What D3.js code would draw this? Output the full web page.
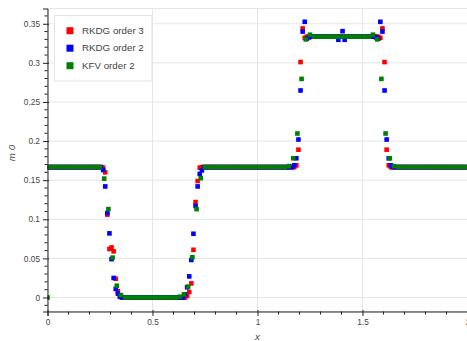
<!DOCTYPE html>
<html><head><meta charset="utf-8">
<script src="https://cdn.jsdelivr.net/npm/d3@7"></script>
<style>html,body{margin:0;padding:0;background:#fff;} svg{display:block;font-family:"Liberation Sans",Arial,Helvetica,sans-serif;}</style>
</head><body><div id="chart"></div>
<script>
// ---------- data ----------
const seriesNames = ["RKDG order 3", "RKDG order 2", "KFV order 2"];
const seriesColors = ["#ff0000", "#0000ff", "#008000"];
const xTicks = [0, 0.5, 1, 1.5, 2];
const xTickLabels = ["0", "0.5", "1", "1.5", "2"];
const yTicks = [0, 0.05, 0.1, 0.15, 0.2, 0.25, 0.3, 0.35];
const yTickLabels = ["0", "0.05", "0.1", "0.15", "0.2", "0.25", "0.3", "0.35"];
const xAxisLabel = "x";
const yAxisLabel = "m 0";

// sample positions (cell centres of the meshes)
const meshDG = d3.range(200).map(i => 0.005 + 0.01 * i);
const meshFV = [0].concat(d3.range(100).map(i => 0.01 + 0.02 * i));

const rkdg3 = [
  .1667,.1667,.1667,.1667,.1667,.1667,.1667,.1667,.1667,.1667,
  .1667,.1667,.1667,.1667,.1667,.1667,.1667,.1667,.1667,.1667,
  .1667,.1667,.1667,.1667,.1667,.1667,.166,.160,.106,.062,
  .064,.059,.024,.008,.002,0,0,0,0,0,
  0,0,0,0,0,0,0,0,0,0,
  0,0,0,0,0,0,0,0,0,0,
  0,0,0,0,0,0,.002,.007,.018,.061,
  .122,.149,.166,.1667,.1667,.1667,.1667,.1667,.1667,.1667,
  .1667,.1667,.1667,.1667,.1667,.1667,.1667,.1667,.1667,.1667,
  .1667,.1667,.1667,.1667,.1667,.1667,.1667,.1667,.1667,.1667,
  .1667,.1667,.1667,.1667,.1667,.1667,.1667,.1667,.1667,.1667,
  .1667,.1667,.1667,.1667,.1667,.1667,.1667,.1667,.169,.189,
  .301,.344,.332,.3335,.3335,.3335,.3335,.3335,.3335,.3335,
  .3335,.3335,.3335,.3335,.3335,.3335,.3335,.3335,.3335,.3335,
  .3335,.3335,.3335,.3335,.3335,.3335,.3335,.3335,.3335,.3335,
  .3335,.3335,.3335,.3335,.3335,.3335,.3335,.3335,.332,.344,
  .301,.189,.169,.1667,.1667,.1667,.1667,.1667,.1667,.1667,
  .1667,.1667,.1667,.1667,.1667,.1667,.1667,.1667,.1667,.1667,
  .1667,.1667,.1667,.1667,.1667,.1667,.1667,.1667,.1667,.1667,
  .1667,.1667,.1667,.1667,.1667,.1667,.1667,.1667,.1667,.1667
];
const rkdg2 = [
  .1667,.1667,.1667,.1667,.1667,.1667,.1667,.1667,.1667,.1667,
  .1667,.1667,.1667,.1667,.1667,.1667,.1667,.1667,.1667,.1667,
  .1667,.1667,.1667,.1667,.1667,.1667,.163,.142,.108,.082,
  .049,.025,.011,.005,.001,0,0,0,0,0,
  0,0,0,0,0,0,0,0,0,0,
  0,0,0,0,0,0,0,0,0,0,
  0,0,0,0,0,.004,.013,.027,.048,.0815,
  .117,.142,.158,.1625,.1667,.1667,.1667,.1667,.1667,.1667,
  .1667,.1667,.1667,.1667,.1667,.1667,.1667,.1667,.1667,.1667,
  .1667,.1667,.1667,.1667,.1667,.1667,.1667,.1667,.1667,.1667,
  .1667,.1667,.1667,.1667,.1667,.1667,.1667,.1667,.1667,.1667,
  .1667,.1667,.1667,.1667,.1667,.1667,.1667,.169,.178,.202,
  .2647,.340,.3525,.331,.3325,.3335,.3335,.3335,.3335,.3335,
  .3335,.3335,.3335,.3335,.3335,.3335,.3335,.3335,.3295,.3335,
  .3405,.3295,.3335,.3335,.3335,.3335,.3335,.3335,.3335,.3335,
  .3335,.3335,.3335,.3335,.3335,.3335,.3325,.331,.3525,.340,
  .2647,.202,.178,.169,.1667,.1667,.1667,.1667,.1667,.1667,
  .1667,.1667,.1667,.1667,.1667,.1667,.1667,.1667,.1667,.1667,
  .1667,.1667,.1667,.1667,.1667,.1667,.1667,.1667,.1667,.1667,
  .1667,.1667,.1667,.1667,.1667,.1667,.1667,.1667,.1667,.1667
];
const kfv2 = [
  0,
  .1667,.1667,.1667,.1667,.1667,.1667,.1667,.1667,.1667,.1667,
  .1667,.1667,.1667,.152,.113,.051,.015,.003,0,0,
  0,0,0,0,0,0,0,0,0,0,
  0,.001,.004,.014,.0515,.113,.1526,.1667,.1667,.1667,
  .1667,.1667,.1667,.1667,.1667,.1667,.1667,.1667,.1667,.1667,
  .1667,.1667,.1667,.1667,.1667,.1667,.1667,.168,.178,.2097,
  .2795,.330,.336,.3335,.3335,.3335,.3335,.3335,.3335,.3335,
  .3335,.3335,.3335,.3335,.3335,.3335,.3335,.336,.330,.2795,
  .2097,.178,.168,.1667,.1667,.1667,.1667,.1667,.1667,.1667,
  .1667,.1667,.1667,.1667,.1667,.1667,.1667,.1667,.1667,.1667
];

const series = [
  {name: seriesNames[0], color: seriesColors[0], xs: meshDG, ys: rkdg3},
  {name: seriesNames[1], color: seriesColors[1], xs: meshDG, ys: rkdg2},
  {name: seriesNames[2], color: seriesColors[2], xs: meshFV, ys: kfv2}
];

// ---------- layout ----------
const W = 467, H = 341;
const frame = {left: 47.5, right: 467.5, top: 8.5, bottom: 311.5};
const x = d3.scaleLinear().domain([0, 2]).range([frame.left, frame.right]);
const y = d3.scaleLinear().domain([-0.0179, 0.3695]).range([frame.bottom, frame.top]);

const svg = d3.select("#chart").append("svg").attr("width", W).attr("height", H);
svg.append("rect").attr("width", W).attr("height", H).attr("fill", "#fff");

svg.append("defs").append("clipPath").attr("id", "clip")
  .append("rect").attr("x", frame.left).attr("y", frame.top)
  .attr("width", frame.right - frame.left).attr("height", frame.bottom - frame.top);

// outline
svg.append("rect").attr("x", frame.left).attr("y", frame.top)
  .attr("width", frame.right - frame.left).attr("height", frame.bottom - frame.top)
  .attr("fill", "none").attr("stroke", "#e5e5e5").attr("stroke-width", 1);

// grid
const grid = svg.append("g");
grid.selectAll(".gx").data(xTicks).join("line")
  .attr("x1", d => x(d)).attr("x2", d => x(d)).attr("y1", frame.top).attr("y2", frame.bottom)
  .attr("stroke", "#e5e5e5").attr("stroke-width", 1);
grid.selectAll(".gy").data(yTicks).join("line")
  .attr("y1", d => y(d)).attr("y2", d => y(d)).attr("x1", frame.left).attr("x2", frame.right)
  .attr("stroke", "#e5e5e5").attr("stroke-width", 1);

// data
const plot = svg.append("g").attr("clip-path", "url(#clip)");
const ms = 4.6;
series.forEach(s => {
  plot.append("g").selectAll("rect").data(s.ys.map((v, i) => [s.xs[i], v])).join("rect")
    .attr("x", d => x(d[0]) - ms / 2).attr("y", d => y(d[1]) - ms / 2)
    .attr("width", ms).attr("height", ms).attr("fill", s.color);
});

// axes
const axisColor = "#222";
const tickFont = 8.3;
const minorX = d3.range(0, 21).map(i => i / 10).filter(v => Math.abs(v * 2 - Math.round(v * 2)) > 1e-9);
const minorY = d3.range(-1, 37).map(i => i / 100).filter(v => Math.abs(v * 20 - Math.round(v * 20)) > 1e-9);

const gx = svg.append("g").attr("transform", `translate(0,${frame.bottom})`);
gx.call(d3.axisBottom(x).tickValues(xTicks).tickFormat((d, i) => xTickLabels[i])
  .tickSizeOuter(0).tickSize(4.5).tickPadding(3.3));
gx.append("g").selectAll("line").data(minorX).join("line")
  .attr("x1", d => x(d)).attr("x2", d => x(d)).attr("y1", 0).attr("y2", 3)
  .attr("stroke", axisColor);
gx.selectAll(".tick line").attr("y1", -1.5);

const gy = svg.append("g").attr("transform", `translate(${frame.left},0)`);
gy.call(d3.axisLeft(y).tickValues(yTicks).tickFormat((d, i) => yTickLabels[i])
  .tickSizeOuter(0).tickSize(4.5).tickPadding(3));
gy.append("g").selectAll("line").data(minorY).join("line")
  .attr("y1", d => y(d)).attr("y2", d => y(d)).attr("x1", 0).attr("x2", -3)
  .attr("stroke", axisColor);
gy.selectAll(".tick line").attr("x1", 1.5);

[gx, gy].forEach(g => {
  g.selectAll(".domain, line").attr("stroke", axisColor).attr("stroke-width", 1);
  g.selectAll("text").attr("fill", "#444").style("font-size", tickFont + "px")
    .style("font-family", '"Liberation Sans", Arial, sans-serif');
});

// axis labels
svg.append("text").attr("x", (frame.left + frame.right) / 2).attr("y", 340)
  .attr("text-anchor", "middle").attr("fill", "#444").style("font-size", "9.75px")
  .style("font-style", "italic").text(xAxisLabel);
svg.append("text").attr("transform", "translate(15,153) rotate(-90)")
  .attr("text-anchor", "middle").attr("fill", "#444").style("font-size", "9.75px")
  .style("font-style", "italic").text(yAxisLabel);

// legend
const lg = svg.append("g");
lg.append("rect").attr("x", 54.5).attr("y", 15.5).attr("width", 97.5).attr("height", 65.5)
  .attr("fill", "#fff").attr("fill-opacity", 0.95).attr("stroke", "#e5e5e5").attr("stroke-width", 1);
series.forEach((s, i) => {
  const cy = 30.7 + i * 17.5;
  lg.append("rect").attr("x", 66.5).attr("y", cy - 3.5).attr("width", 7).attr("height", 7).attr("fill", s.color);
  lg.append("text").attr("x", 82).attr("y", cy).attr("dy", "0.33em").attr("fill", "#444")
    .style("font-size", "9.75px").text(s.name);
});
</script>
</body></html>
